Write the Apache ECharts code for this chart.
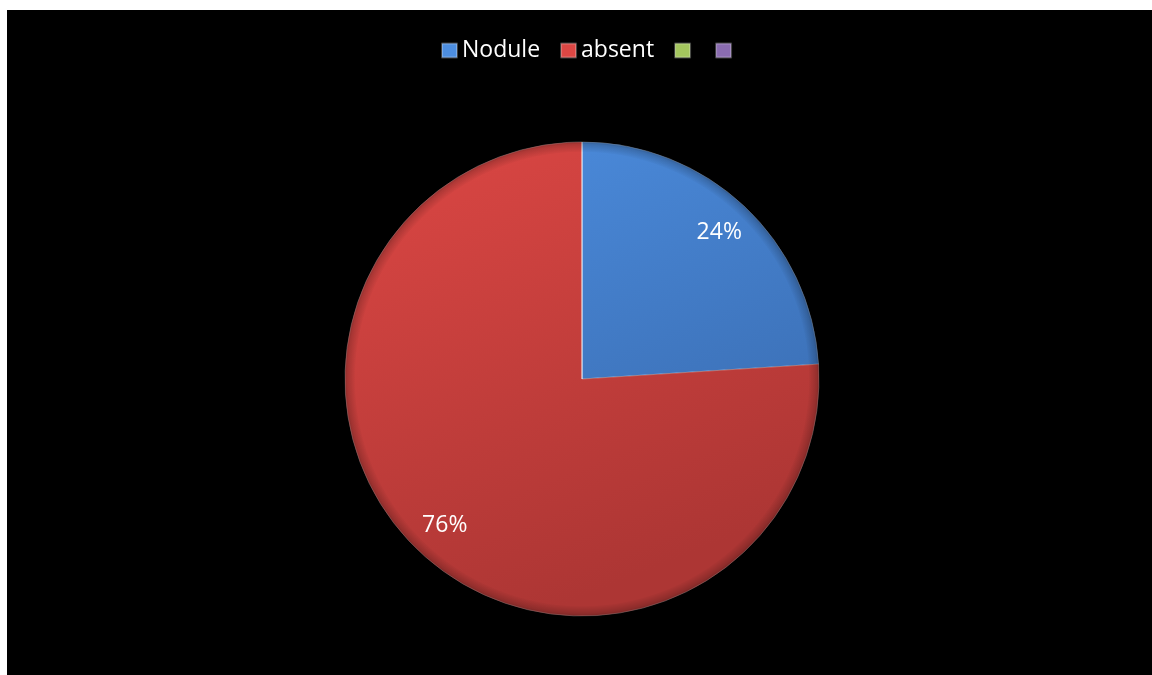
<!DOCTYPE html>
<html>
<head>
<meta charset="utf-8">
<script src="https://cdn.jsdelivr.net/npm/echarts@6/dist/echarts.min.js"></script>
<style>
  html, body { margin: 0; padding: 0; background: #ffffff; width: 1152px; height: 675px; overflow: hidden; }
  #chart { position: absolute; left: 7px; top: 10px; width: 1145px; height: 665px; }
</style>
</head>
<body>
<div id="chart"></div>
<script>
// Legend entries (the last two carry no label text)
const categories = ['Nodule', 'absent', '\u200b', '\u200b\u200b'];
// Share of each category, in percent
const values = [24, 76, 0, 0];
// Office-style palette
const palette = [
  ['#4d8ee0', '#386aae'],
  ['#dc4744', '#ad3634'],
  ['#a4c65e', '#86a448'],
  ['#8a6cb0', '#6c5290']
];

const CX = 575, CY = 369, R = 237;

function grad(i) {
  return {
    type: 'linear', x: CX - R, y: CY - R, x2: CX - R * 0.2, y2: CY + R, global: true,
    colorStops: [{ offset: 0, color: palette[i][0] }, { offset: 1, color: palette[i][1] }]
  };
}

const pieData = categories.map((name, i) => ({
  name: name,
  value: values[i],
  itemStyle: { color: grad(i) }
}));

const labelData = categories.map((name, i) => ({
  name: name,
  value: values[i],
  label: { show: values[i] > 0 }
}));

const chart = echarts.init(document.getElementById('chart'));
chart.setOption({
  backgroundColor: '#000000',
  animation: false,
  legend: {
    data: categories.map((name, i) => ({ name: name, itemStyle: { color: grad(i) } })),
    top: 29,
    left: 434,
    padding: 0,
    icon: 'rect',
    itemWidth: 15,
    itemHeight: 14,
    itemGap: 20,
    textStyle: { color: '#ffffff', fontSize: 23, fontFamily: 'Open Sans' }
  },
  series: [
    {
      type: 'pie',
      center: [CX, CY],
      radius: [0, R],
      startAngle: 90,
      clockwise: true,
      silent: true,
      label: { show: false },
      labelLine: { show: false },
      itemStyle: { borderColor: 'rgba(255,255,255,0.25)', borderWidth: 1 },
      data: pieData
    },
    {
      // soft darkening toward the rim for a bevelled look
      type: 'pie',
      center: [CX, CY],
      radius: [R - 10, R],
      startAngle: 90,
      clockwise: true,
      silent: true,
      label: { show: false },
      labelLine: { show: false },
      itemStyle: {
        color: {
          type: 'radial', x: CX, y: CY, r: R, global: true,
          colorStops: [
            { offset: 0.955, color: 'rgba(0,0,0,0)' },
            { offset: 0.99, color: 'rgba(0,0,0,0.18)' },
            { offset: 1, color: 'rgba(0,0,0,0.3)' }
          ]
        }
      },
      data: labelData.map(d => ({ name: d.name, value: d.value }))
    },
    {
      // transparent ring used only to place the percentage labels
      type: 'pie',
      center: [CX, CY],
      radius: [158, R],
      startAngle: 90,
      clockwise: true,
      silent: true,
      itemStyle: { color: 'rgba(0,0,0,0)' },
      label: {
        position: 'inside',
        color: '#ffffff',
        fontSize: 23,
        fontFamily: 'Open Sans',
        formatter: p => p.value > 0 ? p.value + '%' : ''
      },
      labelLine: { show: false },
      data: labelData
    }
  ]
});
</script>
</body>
</html>
